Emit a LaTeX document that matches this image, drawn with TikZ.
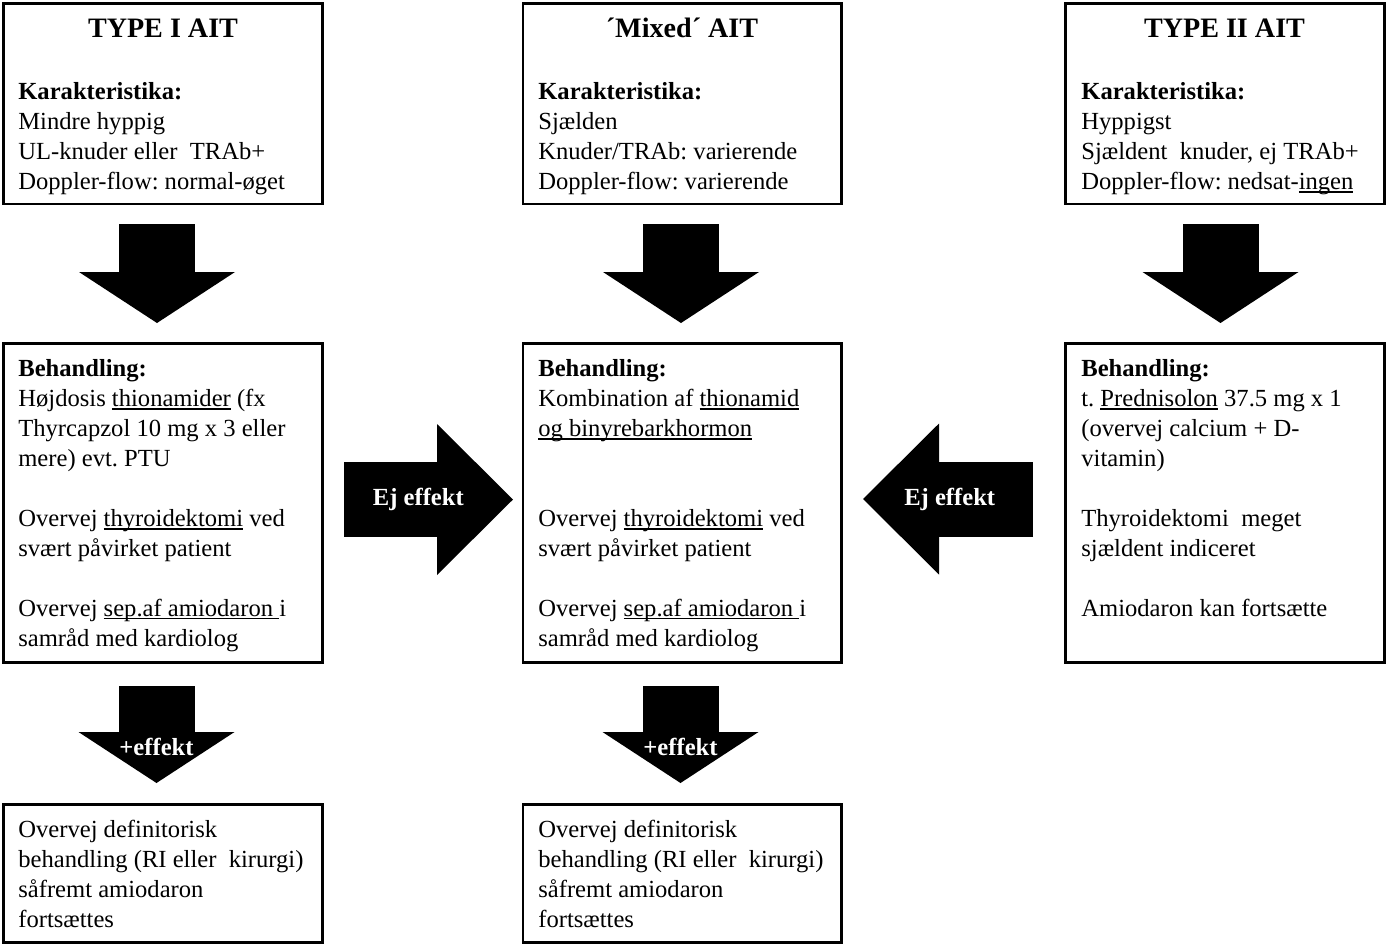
\documentclass[tikz,border=0pt]{standalone}
\usepackage{fontspec}
\setmainfont{Liberation Serif}
\usetikzlibrary{positioning,arrows.meta}
\frenchspacing

\newsavebox\ulbox
\newcommand{\uln}[1]{\sbox\ulbox{#1}\rlap{\rule[-1.8pt]{\wd\ulbox}{0.6pt}}\usebox\ulbox}

\begin{document}
\begin{tikzpicture}[
    font=\fontsize{14}{17.07}\selectfont,
    box/.style={draw, line width=1.7pt, outer sep=0pt, inner sep=0pt, minimum width=6.38cm},
    txt/.style={anchor=north west, inner sep=0pt, align=left},
    head/.style={anchor=base, inner sep=0pt, font=\fontsize{16}{19}\selectfont\bfseries},
    downarrow/.style={line width=1.52cm, -{Triangle[length=1.02cm, width=3.12cm, line width=0pt]}},
    sidearrow/.style={line width=1.5cm, -{Triangle[length=1.52cm, width=3.02cm, line width=0pt]}},
    lbl/.style={text=white, inner sep=0pt, font=\fontsize{14}{17}\selectfont\bfseries}
]

\useasboundingbox (0,0) rectangle (27.76,-18.9);

\node[box,
    anchor=north west,
    minimum height=4.01cm
] (typeI) at (0.07,-0.07) {};

\node[box,
    right=4.01cm of typeI,
    minimum width=6.36cm,
    minimum height=4.01cm
] (mixed) {};

\node[box,
    right=4.48cm of mixed,
    minimum height=4.01cm
] (typeII) {};

\node[box,
    below=2.78cm of typeI,
    minimum height=6.38cm
] (behI) {};

\node[box,
    below=2.78cm of mixed,
    minimum width=6.36cm,
    minimum height=6.38cm
] (behM) {};

\node[box,
    below=2.78cm of typeII,
    minimum height=6.38cm
] (behII) {};

\node[box,
    below=2.84cm of behI,
    minimum height=2.76cm
] (defI) {};

\node[box,
    below=2.84cm of behM,
    minimum width=6.36cm,
    minimum height=2.76cm
] (defM) {};

\node[head] (typeIhead) at ([yshift=-0.68cm]typeI.north) {TYPE I AIT};
\node[head] (mixedhead) at ([yshift=-0.68cm]mixed.north) {´Mixed´ AIT};
\node[head] (typeIIhead) at ([yshift=-0.68cm]typeII.north) {TYPE II AIT};

\node[txt] (typeItxt) at ([xshift=0.29cm, yshift=-1.49cm]typeI.north west)
    {\strut\textbf{Karakteristika:}\\ Mindre hyppig\\ UL-knuder eller\ \ TRAb+\\ Doppler-flow: normal-øget};
\node[txt] (mixedtxt) at ([xshift=0.3cm, yshift=-1.49cm]mixed.north west)
    {\strut\textbf{Karakteristika:}\\ Sjælden\\ Knuder/TRAb: varierende\\ Doppler-flow: varierende};
\node[txt] (typeIItxt) at ([xshift=0.32cm, yshift=-1.49cm]typeII.north west)
    {\strut\textbf{Karakteristika:}\\ Hyppigst\\ Sjældent\ \ knuder, ej TRAb+\\ Doppler-flow: nedsat-\uln{ingen}};

\node[txt] (behItxt) at ([xshift=0.29cm, yshift=-0.24cm]behI.north west)
    {\strut\textbf{Behandling:}\\ Højdosis \uln{thionamider} (fx\\ Thyrcapzol 10 mg x 3 eller\\ mere) evt. PTU\\[17.07pt]
     Overvej \uln{thyroidektomi} ved\\ svært påvirket patient\\[17.07pt]
     Overvej \uln{sep.af amiodaron\ }i\\ samråd med kardiolog};
\node[txt] (behMtxt) at ([xshift=0.3cm, yshift=-0.24cm]behM.north west)
    {\strut\textbf{Behandling:}\\ Kombination af \uln{thionamid}\\ \uln{og binyrebarkhormon}\\[34.14pt]
     Overvej \uln{thyroidektomi} ved\\ svært påvirket patient\\[17.07pt]
     Overvej \uln{sep.af amiodaron\ }i\\ samråd med kardiolog};
\node[txt] (behIItxt) at ([xshift=0.32cm, yshift=-0.24cm]behII.north west)
    {\strut\textbf{Behandling:}\\ t. \uln{Prednisolon} 37.5 mg x 1\\ (overvej calcium + D-\\ vitamin)\\[17.07pt]
     Thyroidektomi\ \ meget\\ sjældent indiceret\\[17.07pt]
     Amiodaron kan fortsætte};

\node[txt] (defItxt) at ([xshift=0.29cm, yshift=-0.24cm]defI.north west)
    {\strut Overvej definitorisk\\ behandling (RI eller\ \ kirurgi)\\ såfremt amiodaron\\ fortsættes};
\node[txt] (defMtxt) at ([xshift=0.3cm, yshift=-0.24cm]defM.north west)
    {\strut Overvej definitorisk\\ behandling (RI eller\ \ kirurgi)\\ såfremt amiodaron\\ fortsættes};

\draw[downarrow] ([xshift=-0.12cm, yshift=-0.4cm]typeI.south) -- ([xshift=-0.12cm, yshift=0.4cm]behI.north);
\draw[downarrow] ([xshift=-0.02cm, yshift=-0.4cm]mixed.south) -- ([xshift=-0.02cm, yshift=0.4cm]behM.north);
\draw[downarrow] ([xshift=-0.08cm, yshift=-0.4cm]typeII.south) -- ([xshift=-0.08cm, yshift=0.4cm]behII.north);

\draw[sidearrow] ([xshift=0.43cm, yshift=0.06cm]behI.east) -- ([xshift=-0.2cm, yshift=0.06cm]behM.west)
    node[lbl, pos=0.44] (ejI) {Ej effekt};
\draw[sidearrow] ([xshift=-0.64cm, yshift=0.07cm]behII.west) -- ([xshift=0.44cm, yshift=0.07cm]behM.east)
    node[lbl, pos=0.49] (ejII) {Ej effekt};

\draw[downarrow] ([xshift=-0.13cm, yshift=-0.48cm]behI.south) -- ([xshift=-0.13cm, yshift=0.42cm]defI.north)
    node[lbl, pos=0.63] (plusI) {+effekt};
\draw[downarrow] ([xshift=-0.03cm, yshift=-0.48cm]behM.south) -- ([xshift=-0.03cm, yshift=0.42cm]defM.north)
    node[lbl, pos=0.63] (plusM) {+effekt};

\end{tikzpicture}
\end{document}
